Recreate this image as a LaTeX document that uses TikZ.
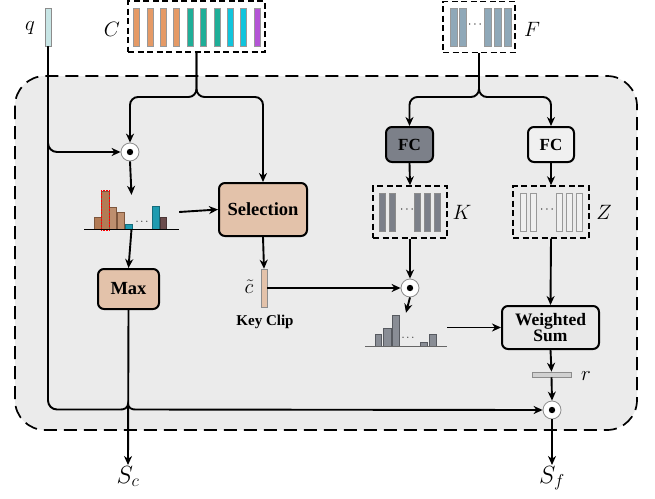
\documentclass[tikz,border=0pt]{standalone}
\usepackage{fontspec}
\setmainfont{Liberation Serif}
\usetikzlibrary{arrows.meta,calc}
\definecolor{bgray}{HTML}{EBEBEB}
\definecolor{cor}{HTML}{E59A66}
\definecolor{cte}{HTML}{1FAE98}
\definecolor{ccy}{HTML}{10C4DC}
\definecolor{cpu}{HTML}{B455D6}
\definecolor{tan}{HTML}{E3C2AA}
\definecolor{hbr}{HTML}{B27B55}
\definecolor{hte}{HTML}{1E9BB0}
\definecolor{hdb}{HTML}{6B4B4B}
\definecolor{fblue}{HTML}{8FA8B8}
\definecolor{kgray}{HTML}{7C8089}
\definecolor{zgray}{HTML}{F0F0F0}
\definecolor{qcol}{HTML}{C8E6E6}
\begin{document}
\begin{tikzpicture}[x=1pt,y=-1pt,
  ln/.style={line width=1.9pt},
  arr/.style={line width=1.9pt,-{Stealth[length=9pt,width=8pt,inset=2.8pt]}},
  opbox/.style={draw,line width=2pt,rounded corners=6pt,inner sep=0pt,font=\bfseries\fontsize{18.5}{19}\selectfont},
  dbox/.style={draw,line width=1.4pt,dash pattern=on 6pt off 3.5pt,inner sep=0pt},
  odot/.style={circle,draw=black!45,fill=white,line width=0.8pt,minimum size=18pt,inner sep=0pt},
  bar/.style={draw=black!45,line width=0.5pt,inner sep=0pt},
  mlab/.style={font=\fontsize{21}{23}\selectfont,inner sep=0pt},
  ghost/.style={inner sep=0pt}
]
\useasboundingbox (0,0) rectangle (655,498);
\fill[white] (0,0) rectangle (655,498);
% big container
\draw[fill=bgray,line width=1.7pt,dash pattern=on 13pt off 7pt,rounded corners=30pt] (15,76) rectangle (637,430);

% q
\node[bar,fill=qcol,minimum width=6pt,minimum height=38pt] (q) at (48,27) {};
\node[mlab] (ql) at (30,28) {$q$};

% C
\node[dbox,minimum width=137pt,minimum height=51pt] (Cb) at (196.5,26.5) {};
\foreach \i/\c in {0/cor,1/cor,2/cor,3/cor,4/cte,5/cte,6/cte,7/ccy,8/ccy,9/cpu}
  \filldraw[fill=\c,draw=black!40,line width=0.5pt] (133.5+\i*13.4,8) rectangle ++(6,38);
\node[mlab] (Cl) at (112,29) {$C$};

% F
\node[dbox,minimum width=72pt,minimum height=51pt] (Fb) at (479,27) {};
\foreach \x in {450,459,484,494,504}
  \filldraw[fill=fblue,draw=black!40,line width=0.5pt] (\x,8) rectangle ++(7,38);
\node[font=\fontsize{12}{12}\selectfont] (Fd) at (475,25) {$\cdots$};
\node[mlab] (Fl) at (532,29) {$F$};

% odot nodes
\node[odot] (od1) at (130,152) {};
\node[odot] (od3) at (410,288) {};
\node[odot] (od2) at (552,410) {};
\foreach \n in {od1,od2,od3} \fill (\n) circle (3.2pt);

% histogram 1
\node[ghost,minimum width=95pt,minimum height=34pt] (h1) at (131.5,212) {};
\filldraw[fill=hbr,draw=hbr!70!black,line width=0.3pt] (94,217) rectangle (101,229);
\filldraw[fill=hbr,draw=hbr!70!black,line width=0.3pt] (101.5,191) rectangle (109,229);
\filldraw[fill=hbr!85!white,draw=hbr!70!black,line width=0.3pt] (109.5,207) rectangle (116.5,229);
\filldraw[fill=hbr!85!white,draw=hbr!70!black,line width=0.3pt] (117,212) rectangle (124,229);
\filldraw[fill=hte,draw=hte!70!black,line width=0.3pt] (125,224) rectangle (132,229);
\filldraw[fill=hte,draw=hte!70!black,line width=0.3pt] (152,206) rectangle (159,229);
\filldraw[fill=hdb,draw=hdb!70!black,line width=0.3pt] (160,217) rectangle (166,229);
\draw[red,line width=0.9pt,dash pattern=on 2pt off 1.2pt] (101,190) rectangle (109.5,230);
\node[font=\fontsize{11}{11}\selectfont] (h1d) at (142,222) {$\cdots$};
\draw[line width=1pt] (84,229) -- (179,229);

% histogram 2
\node[ghost,minimum width=82pt,minimum height=33pt] (h2) at (406,329.5) {};
\foreach \a/\b/\t in {375/381/334,383/391/328,392/399/315,420/427/342,429/436/334}
  \filldraw[fill=kgray!90!white,draw=kgray!70!black,line width=0.3pt] (\a,\t) rectangle (\b,346);
\node[font=\fontsize{11}{11}\selectfont] (h2d) at (408,338) {$\cdots$};
\draw[line width=0.9pt,black!60] (365,346.5) -- (447,346.5);

% boxes
\node[opbox,fill=tan,minimum width=88pt,minimum height=53pt] (Sel) at (263,209.5) {Selection};
\node[opbox,fill=tan,minimum width=61pt,minimum height=40pt] (Max) at (128.5,289) {Max};
\node[opbox,fill=kgray,minimum width=47pt,minimum height=35pt,font=\bfseries\fontsize{17}{18}\selectfont] (FC1) at (409.5,144.5) {FC};
\node[opbox,fill=zgray,minimum width=46pt,minimum height=35pt,font=\bfseries\fontsize{17}{18}\selectfont] (FC2) at (551,144.5) {FC};
\node[opbox,fill=black!9,minimum width=97pt,minimum height=43pt,align=center,font=\bfseries\fontsize{17.5}{16}\selectfont] (WS) at (550.5,327.5) {Weighted\\Sum};

% K and Z
\node[dbox,minimum width=74pt,minimum height=52pt] (Kb) at (410,212) {};
\foreach \x in {379,389,414,424,434}
  \filldraw[fill=kgray,draw=black!45,line width=0.5pt] (\x,193) rectangle ++(6,38);
\node[font=\fontsize{12}{12}\selectfont] (Kd) at (407,210) {$\cdots$};
\node[mlab] (Kl) at (462,212) {$K$};
\node[dbox,minimum width=76pt,minimum height=52pt] (Zb) at (551,212) {};
\foreach \x in {520,530,556,566,576}
  \filldraw[fill=zgray,draw=black!40,line width=0.5pt] (\x,193) rectangle ++(6,38);
\node[font=\fontsize{12}{12}\selectfont] (Zd) at (547,210) {$\cdots$};
\node[mlab] (Zl) at (604,212) {$Z$};

% key clip
\node[bar,fill=tan,minimum width=6pt,minimum height=38pt] (cb) at (264,288) {};
\node[mlab] (cl) at (249,287) {$\tilde{c}$};
\node[font=\bfseries\fontsize{15}{16}\selectfont,inner sep=0pt] (kc) at (265,322) {Key Clip};

% r
\node[bar,fill=black!18,minimum width=39pt,minimum height=5pt] (rb) at (551.5,374.5) {};
\node[mlab] (rl) at (586,376) {$r$};

% outputs
\node[font=\fontsize{24}{26}\selectfont,inner sep=1pt,anchor=north] (Sc) at (128,465) {$S_c$};
\node[font=\fontsize{24}{26}\selectfont,inner sep=1pt,anchor=north] (Sf) at (552,465) {$S_f$};

% connectors
\draw[arr,rounded corners=8pt] (Cb.south) -- (Cb.south |- 0,97) -| (od1.north);
\draw[arr,rounded corners=8pt] (Cb.south) -- (Cb.south |- 0,97) -| (Sel.north);
\draw[arr,rounded corners=8pt] (Fb.south) -- (Fb.south |- 0,97) -| (FC1.north);
\draw[arr,rounded corners=8pt] (Fb.south) -- (Fb.south |- 0,97) -| (FC2.north);
\draw[arr,rounded corners=9pt] (q.south) |- (od1.west);
\coordinate (hopL) at (121,409.5);
\coordinate (hopT) at (128,404);
\coordinate (hopR) at (135,409.5);
\draw[ln,rounded corners=9pt] (q.south) |- (hopL);
\draw[ln] (hopL) to[out=0,in=-90] (hopT) to[out=-90,in=180] (hopR);
\draw[arr] (hopR) -- (od2.west);
\draw[arr] (od1.south) -- (h1.north);
\draw[arr] (h1.east) -- (Sel.west);
\draw[arr] (h1.south) -- (Max.north);
\draw[arr] (Max.south) -- (Sc.north);
\draw[arr] (Sel.south) -- (cb.north);
\draw[arr] (cb.east) -- (od3.west);
\draw[arr] (FC1.south) -- (Kb.north);
\draw[arr] (FC2.south) -- (Zb.north);
\draw[arr] (Kb.south) -- (od3.north);
\draw[arr] (od3.south) -- (h2.north);
\draw[arr] (h2.east |- WS.west) -- (WS.west);
\draw[arr] (Zb.south) -- (WS.north);
\draw[arr] (WS.south) -- (rb.north);
\draw[arr] (rb.south) -- (od2.north);
\draw[arr] (od2.south) -- (Sf.north);
\end{tikzpicture}
\end{document}
